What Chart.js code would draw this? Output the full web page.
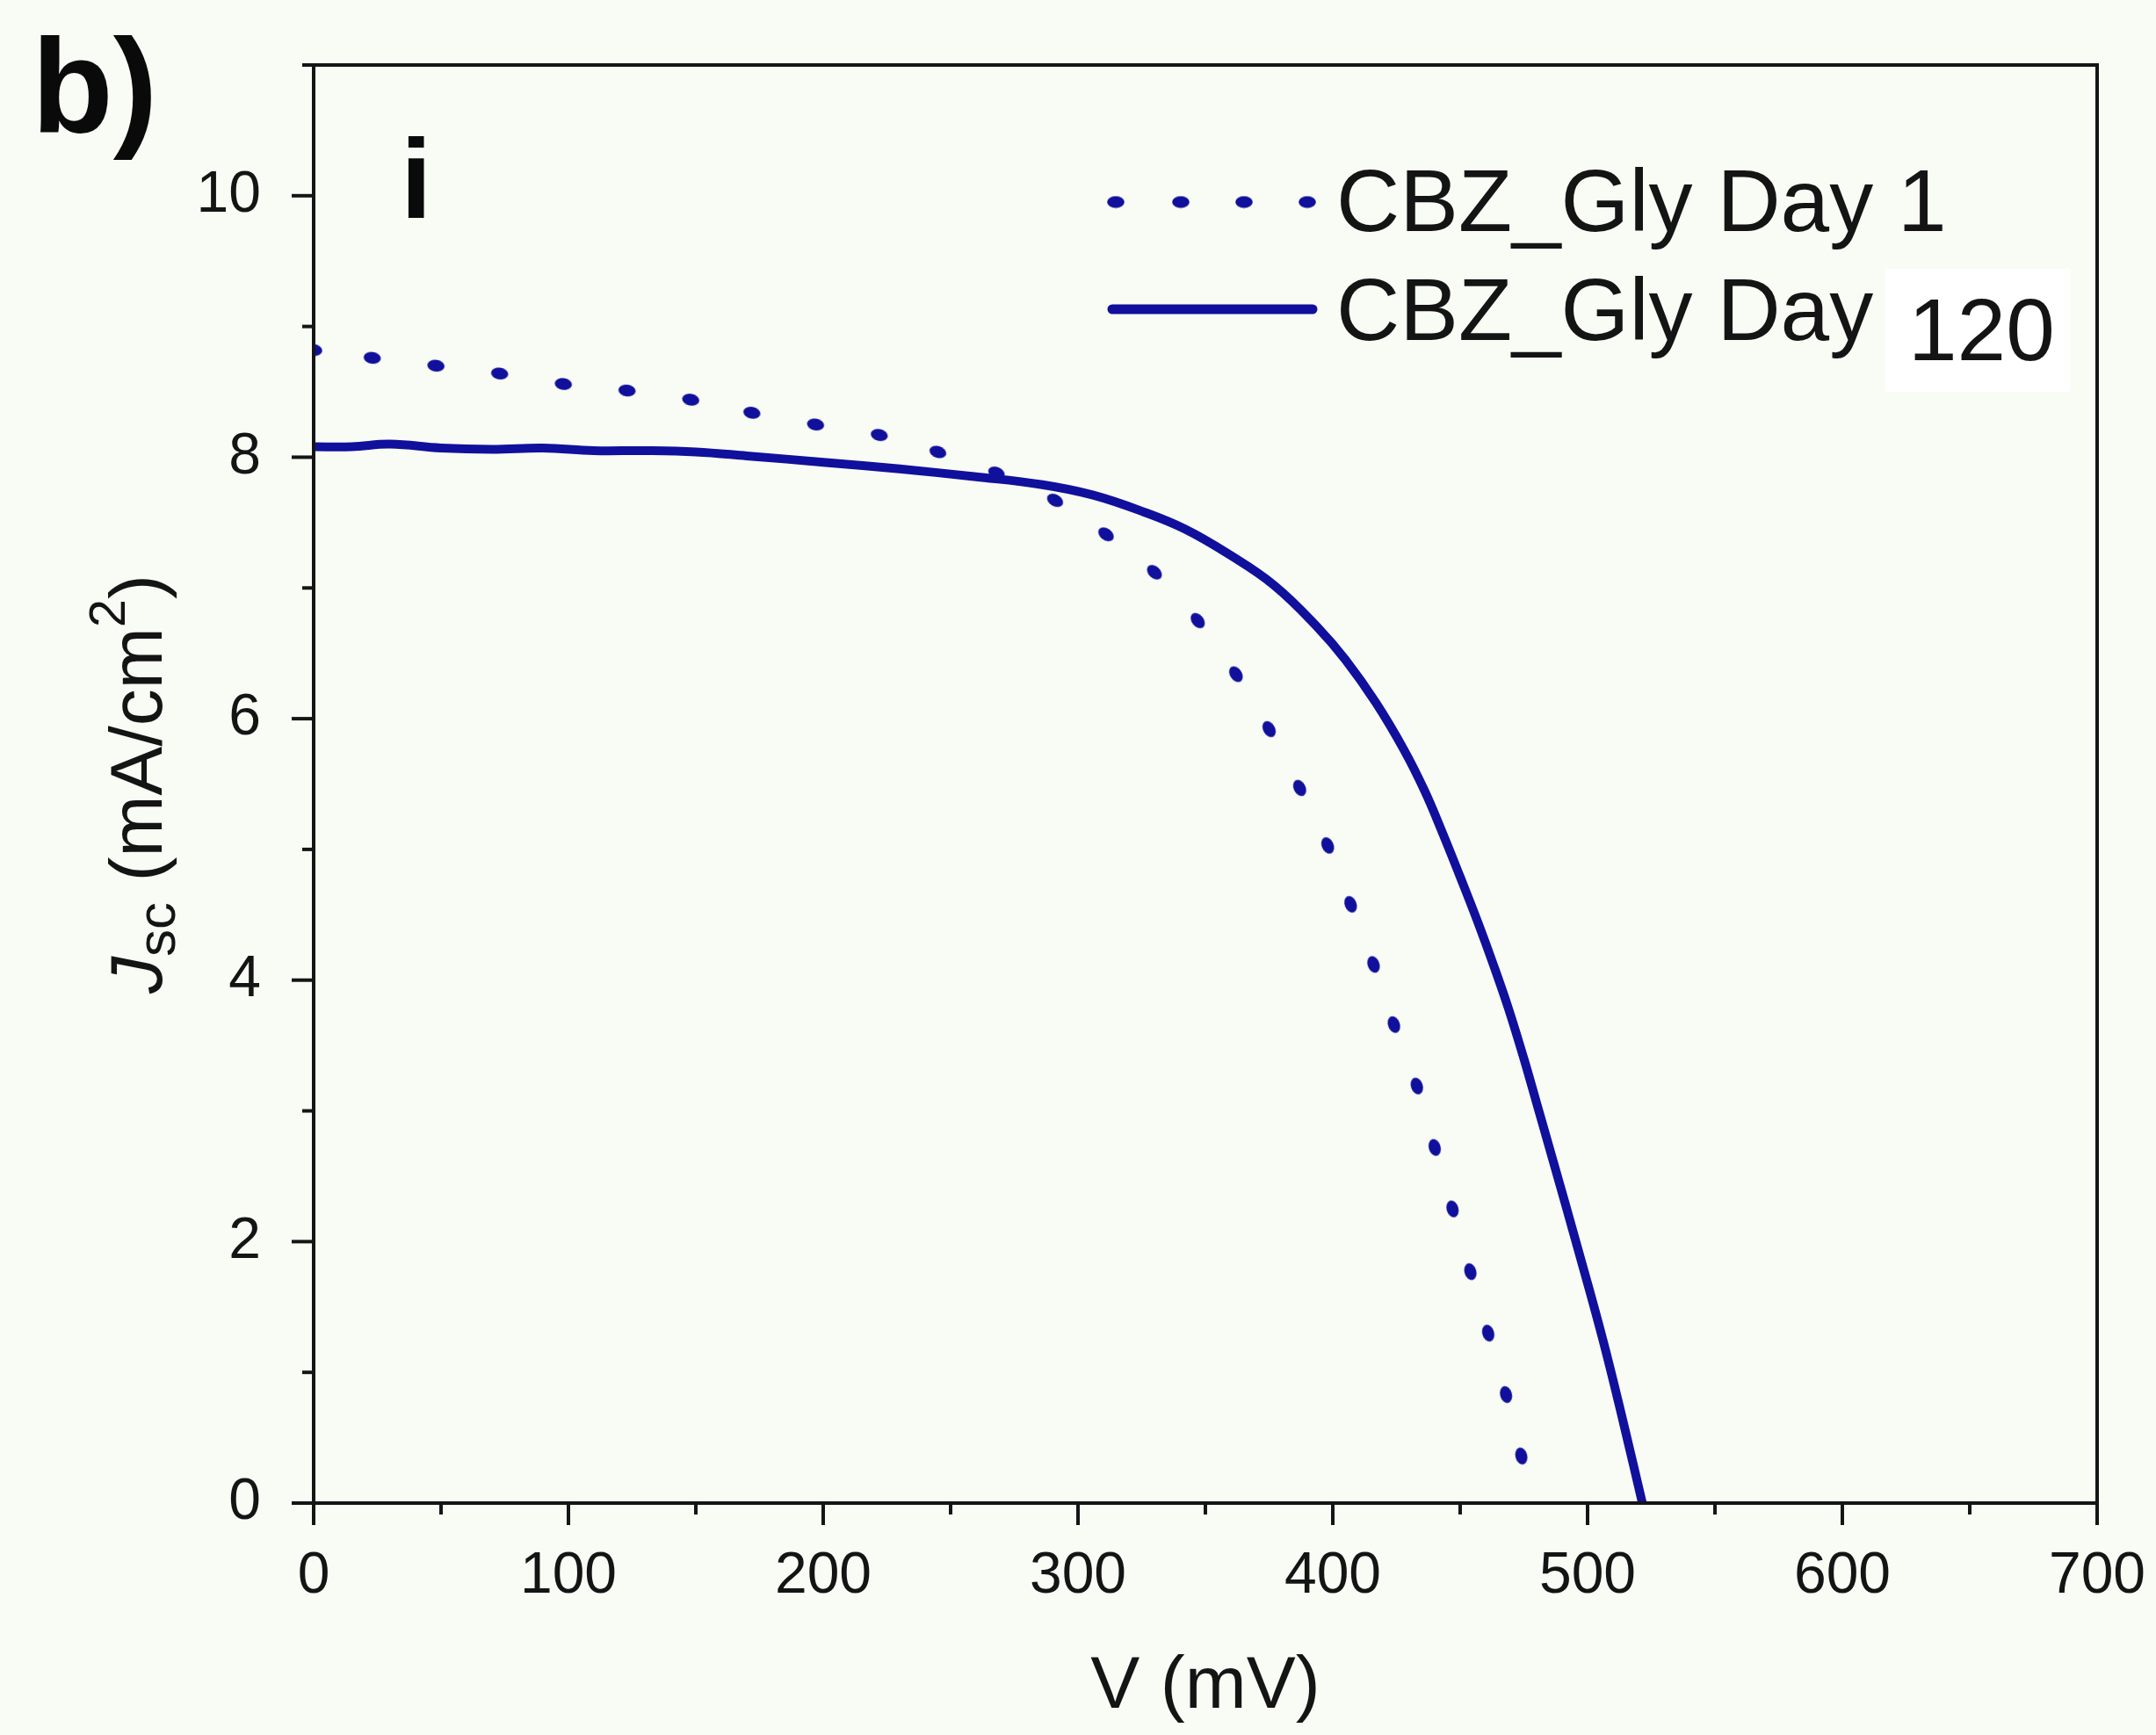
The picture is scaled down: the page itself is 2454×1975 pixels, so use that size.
<!DOCTYPE html>
<html>
<head>
<meta charset="utf-8">
<script src="https://cdn.jsdelivr.net/npm/chart.js@4.4.1/dist/chart.umd.min.js"></script>
<style>
  html, body { margin: 0; padding: 0; background: #f9fbf5; }
  #wrap { width: 2454px; height: 1975px; position: relative; }
</style>
</head>
<body>
<div id="wrap"><canvas id="c"></canvas></div>
<script>
// ---- data ----
const seriesLabels = ['CBZ_Gly Day 1', 'CBZ_Gly Day 120'];

const vDay1 = [0, 23, 48, 73, 98, 123, 148, 172, 197, 222, 245, 268, 291, 311, 330, 347, 362, 375, 387, 398, 407, 416, 424, 433, 440, 447, 454, 461, 468, 474];
const jDay1 = [8.82, 8.76, 8.70, 8.64, 8.56, 8.51, 8.44, 8.34, 8.25, 8.17, 8.04, 7.88, 7.67, 7.41, 7.12, 6.75, 6.34, 5.92, 5.47, 5.03, 4.58, 4.12, 3.66, 3.19, 2.72, 2.25, 1.77, 1.30, 0.83, 0.36];

const vDay120 = [0, 15, 30, 50, 70, 90, 110, 130, 150, 170, 201, 230, 260, 286, 306, 326, 342, 359, 377, 394, 405, 417, 428, 436, 443, 450, 457, 463, 469, 475, 480, 486, 496, 506, 514, 521.5];
const jDay120 = [8.08, 8.08, 8.10, 8.07, 8.06, 8.07, 8.05, 8.05, 8.04, 8.01, 7.96, 7.91, 7.85, 7.79, 7.71, 7.58, 7.45, 7.26, 7.02, 6.70, 6.45, 6.12, 5.76, 5.45, 5.13, 4.79, 4.44, 4.12, 3.78, 3.40, 3.06, 2.65, 1.96, 1.25, 0.62, 0.00];

const xMin = 0, xMax = 700, xMajor = 100, xMinor = 50;
const yMin = 0, yMax = 11, yMajor = 2, yMinor = 1;

const panelLabel = 'b)';
const subLabel = 'i';
const xTitle = 'V (mV)';

// ---- styling ----
const FONT = "'Liberation Sans', Arial, Helvetica, sans-serif";
const LINE_COLOR = '#10109c';
const AXIS_COLOR = '#151515';
const TEXT_COLOR = '#141414';

const toPts = (xs, ys) => xs.map((x, i) => ({ x: x, y: ys[i] }));

// elongated dot used for the dotted series
const dot = document.createElement('canvas');
dot.width = 22; dot.height = 15;
(function () {
  const g = dot.getContext('2d');
  g.fillStyle = LINE_COLOR;
  g.beginPath();
  g.ellipse(11, 7.5, 9.8, 6.8, 0, 0, Math.PI * 2);
  g.fill();
})();

function dotAngle(c) {
  const d = c.dataset && c.dataset.data;
  const i = c.dataIndex;
  if (!d || i === undefined || !c.chart.scales.x) return 0;
  const a = d[Math.max(0, i - 1)], b = d[Math.min(d.length - 1, i + 1)];
  const xs = c.chart.scales.x, ys = c.chart.scales.y;
  const dx = xs.getPixelForValue(b.x) - xs.getPixelForValue(a.x);
  const dy = ys.getPixelForValue(b.y) - ys.getPixelForValue(a.y);
  return Math.atan2(dy, dx) * 180 / Math.PI;
}

const overlay = {
  id: 'overlay',
  afterDraw(chart) {
    const ctx = chart.ctx;
    const ca = chart.chartArea;
    const xs = chart.scales.x, ys = chart.scales.y;
    ctx.save();
    // frame
    ctx.strokeStyle = AXIS_COLOR;
    ctx.lineWidth = 4;
    ctx.lineCap = 'square';
    ctx.beginPath();
    ctx.moveTo(ca.left, ca.top); ctx.lineTo(ca.right, ca.top);
    ctx.lineTo(ca.right, ca.bottom); ctx.lineTo(ca.left, ca.bottom);
    ctx.closePath();
    ctx.stroke();
    ctx.lineCap = 'butt';
    // x ticks
    for (let v = xMin; v <= xMax + 1e-9; v += xMinor) {
      const px = xs.getPixelForValue(v);
      const len = (Math.abs(v % xMajor) < 1e-9) ? 25 : 13;
      ctx.beginPath();
      ctx.moveTo(px, ca.bottom); ctx.lineTo(px, ca.bottom + len);
      ctx.stroke();
    }
    // y ticks
    for (let v = yMin; v <= yMax + 1e-9; v += yMinor) {
      const py = ys.getPixelForValue(v);
      const len = (Math.abs(v % yMajor) < 1e-9) ? 25 : 13;
      ctx.beginPath();
      ctx.moveTo(ca.left, py); ctx.lineTo(ca.left - len, py);
      ctx.stroke();
    }

    // legend
    const ds = chart.data.datasets;
    ctx.textBaseline = 'alphabetic';
    ctx.textAlign = 'left';
    ctx.font = '100px ' + FONT;
    // row 1: dotted sample
    [1270, 1344, 1416, 1488].forEach(x => {
      ctx.drawImage(dot, x - dot.width / 2, 230 - dot.height / 2);
    });
    ctx.fillStyle = TEXT_COLOR;
    ctx.fillText(ds[0].label, 1521, 263);
    // row 2: solid sample
    ctx.strokeStyle = ds[1].borderColor;
    ctx.lineWidth = 11;
    ctx.lineCap = 'round';
    ctx.beginPath(); ctx.moveTo(1266, 352); ctx.lineTo(1494, 352); ctx.stroke();
    const lab2 = ds[1].label;
    const cut = lab2.lastIndexOf(' ');
    ctx.fillStyle = TEXT_COLOR;
    ctx.fillText(lab2.slice(0, cut), 1521, 387);
    ctx.fillStyle = '#ffffff';
    ctx.fillRect(2146, 306, 210, 140);
    ctx.fillStyle = TEXT_COLOR;
    ctx.fillText(lab2.slice(cut + 1), 2172, 410);

    // panel labels
    ctx.fillStyle = '#0a0a0a';
    ctx.font = 'bold 152px ' + FONT;
    ctx.fillText(panelLabel, 36, 150);
    ctx.font = 'bold 128px ' + FONT;
    ctx.fillText(subLabel, 456, 248);

    // y title with sub/superscript
    ctx.save();
    ctx.translate(184, (ca.top + ca.bottom) / 2);
    ctx.rotate(-Math.PI / 2);
    ctx.fillStyle = TEXT_COLOR;
    const parts = [
      { t: 'J', f: 'italic 84px ' + FONT, dy: 0 },
      { t: 'sc', f: '62px ' + FONT, dy: 15 },
      { t: ' (mA/cm', f: '84px ' + FONT, dy: 0 },
      { t: '2', f: '58px ' + FONT, dy: -42 },
      { t: ')', f: '84px ' + FONT, dy: 0 }
    ];
    let total = 0;
    parts.forEach(p => { ctx.font = p.f; p.w = ctx.measureText(p.t).width; total += p.w; });
    let cx = -total / 2;
    parts.forEach(p => { ctx.font = p.f; ctx.fillText(p.t, cx, p.dy); cx += p.w; });
    ctx.restore();

    ctx.restore();
  }
};

const bg = {
  id: 'bg',
  beforeDraw(chart) {
    const ctx = chart.ctx;
    ctx.save();
    ctx.fillStyle = '#f9fbf5';
    ctx.fillRect(0, 0, chart.width, chart.height);
    ctx.restore();
  }
};

new Chart(document.getElementById('c'), {
  type: 'line',
  data: {
    datasets: [
      {
        label: seriesLabels[0],
        data: toPts(vDay1, jDay1),
        showLine: false,
        pointStyle: dot,
        pointRadius: 8,
        pointRotation: dotAngle,
        pointBorderWidth: 0,
        pointBackgroundColor: LINE_COLOR,
        borderColor: LINE_COLOR,
        clip: 0
      },
      {
        label: seriesLabels[1],
        data: toPts(vDay120, jDay120),
        borderColor: LINE_COLOR,
        borderWidth: 10,
        pointRadius: 0,
        tension: 0.4,
        borderCapStyle: 'round',
        borderJoinStyle: 'round',
        fill: false,
        clip: 0
      }
    ]
  },
  options: {
    responsive: true,
    maintainAspectRatio: false,
    animation: false,
    events: [],
    layout: { autoPadding: false, padding: { left: 0, top: 74, right: 67, bottom: 0 } },
    plugins: {
      legend: { display: false },
      tooltip: { enabled: false }
    },
    scales: {
      x: {
        type: 'linear',
        min: xMin, max: xMax,
        grid: { display: false, drawTicks: false },
        border: { display: false },
        ticks: {
          stepSize: xMinor,
          autoSkip: false,
          maxRotation: 0,
          padding: 44,
          color: TEXT_COLOR,
          font: { family: FONT, size: 66 },
          callback: v => (Math.abs(v % xMajor) < 1e-9 ? String(v) : '')
        },
        title: {
          display: true,
          text: xTitle,
          color: TEXT_COLOR,
          font: { family: FONT, size: 84 },
          padding: { top: 0, bottom: 4 }
        },
        afterFit: s => { s.height = 264; s.paddingLeft = 0; s.paddingRight = 0; }
      },
      y: {
        type: 'linear',
        min: yMin, max: yMax,
        grid: { display: false, drawTicks: false },
        border: { display: false },
        ticks: {
          stepSize: yMinor,
          autoSkip: false,
          padding: 60,
          color: TEXT_COLOR,
          font: { family: FONT, size: 66 },
          callback: v => (Math.abs(v % yMajor) < 1e-9 ? String(v) : '')
        },
        afterFit: s => { s.width = 357; s.paddingTop = 0; s.paddingBottom = 0; }
      }
    }
  },
  plugins: [bg, overlay]
});
</script>
</body>
</html>
